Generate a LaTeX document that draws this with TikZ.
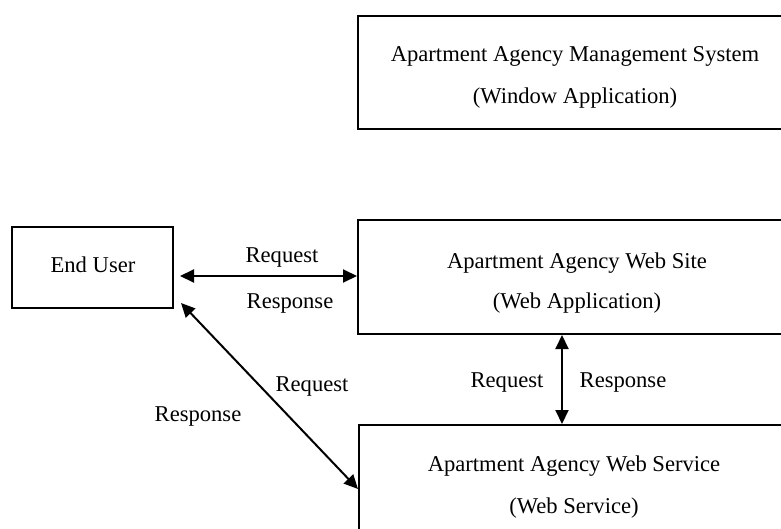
\documentclass[tikz,border=0pt]{standalone}
\usepackage{fontspec}
\setmainfont{Liberation Serif}
\usetikzlibrary{arrows.meta}
\begin{document}
\begin{tikzpicture}[x=1pt,y=-1pt,
  box/.style={draw, line width=2pt, inner sep=0pt, anchor=north west},
  txt/.style={font=\fontsize{22.6}{27}\selectfont, inner sep=0pt},
  conn/.style={line width=2pt, {Triangle[length=14pt,width=13pt]}-{Triangle[length=14pt,width=13pt]}}
]
\clip (0,0) rectangle (781,529);
\useasboundingbox (0,0) rectangle (781,529);
% boxes
\node[box, minimum width=436pt, minimum height=113pt] (mgmt) at (357,15) {};
\node[box, minimum width=436pt, minimum height=114pt] (site) at (357,219) {};
\node[box, minimum width=436pt, minimum height=120pt] (svc) at (358,424) {};
\node[box, minimum width=161pt, minimum height=81pt] (user) at (11,226) {};
% box texts
\node[txt] (t1) at (575,56) {Apartment Agency Management System};
\node[txt] (t2) at (575,98) {(Window Application)};
\node[txt] (t3) at (577,263) {Apartment Agency Web Site};
\node[txt] (t4) at (577,303) {(Web Application)};
\node[txt] (t5) at (574,466) {Apartment Agency Web Service};
\node[txt] (t6) at (574,508) {(Web Service)};
\node[txt] (t7) at (93,265) {End User};
% connector endpoints
\coordinate (uE) at ([xshift=6pt]user.east |- 0,276);
\coordinate (sW) at (site.west |- 0,276);
\coordinate (uSE) at ([shift={(7pt,6pt)}]user.south east);
\coordinate (svW) at (svc.west |- 0,489);
\coordinate (sS) at (site.south -| 562,0);
\coordinate (vN) at (svc.north -| 562,0);
\draw[conn] (uE) -- (sW);
\draw[conn] (uSE) -- (svW);
\draw[conn] (sS) -- (vN);
% labels
\node[txt] (l1) at (282,258) {Request};
\node[txt] (l2) at (290,304) {Response};
\node[txt] (l3) at (507,383) {Request};
\node[txt] (l4) at (623,383) {Response};
\node[txt] (l5) at (312,387) {Request};
\node[txt] (l6) at (198,417) {Response};
\end{tikzpicture}
\end{document}
